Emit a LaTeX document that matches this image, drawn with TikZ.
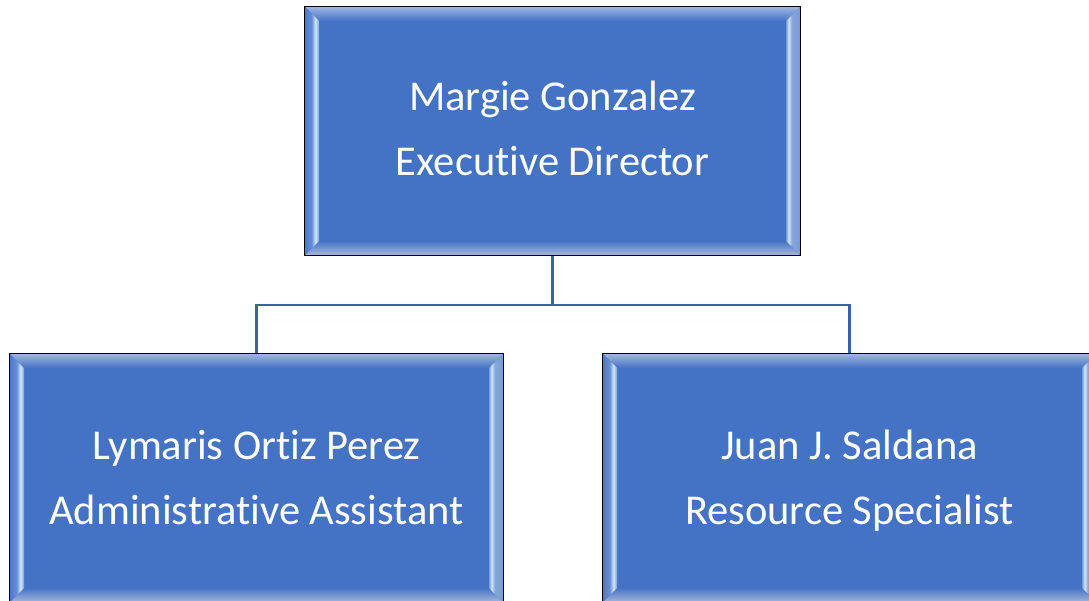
\documentclass[tikz,border=0pt]{standalone}
\usepackage{fontspec}
\setmainfont{Carlito}[Ligatures=NoCommon]
\usetikzlibrary{calc}
\definecolor{boxblue}{HTML}{4472C4}
\definecolor{connblue}{HTML}{3A62A8}
\definecolor{bevtop}{HTML}{9BB4E2}
\definecolor{bevbot}{HTML}{A3B6DA}
\definecolor{bevLa}{HTML}{4E7AC7}
\definecolor{bevLb}{HTML}{6690D6}
\definecolor{bevHL}{HTML}{D4E8FC}
\definecolor{bevLc}{HTML}{6F97D9}
\definecolor{bevRa}{HTML}{7A9AD4}
\definecolor{bevRb}{HTML}{86A6DE}
\pgfdeclarehorizontalshading{bevleft}{100bp}{color(0bp)=(bevLa); color(25bp)=(bevLa); color(48bp)=(bevLb); color(62bp)=(bevHL); color(75bp)=(bevLc); color(100bp)=(bevLc)}
\pgfdeclarehorizontalshading{bevright}{100bp}{color(0bp)=(bevLc); color(25bp)=(bevLc); color(35bp)=(bevHL); color(46bp)=(bevRb); color(75bp)=(bevRa); color(100bp)=(bevRa)}
\newcommand\bevelon[1]{%
  \coordinate (#1A) at ($(#1.north west)+(1,1)$);
  \coordinate (#1B) at ($(#1.north east)+(-1,1)$);
  \coordinate (#1C) at ($(#1.south east)+(-1,-1)$);
  \coordinate (#1D) at ($(#1.south west)+(1,-1)$);
  \coordinate (#1a) at ($(#1A)+(14,14)$);
  \coordinate (#1b) at ($(#1B)+(-14,14)$);
  \coordinate (#1c) at ($(#1C)+(-14,-14)$);
  \coordinate (#1d) at ($(#1D)+(14,-14)$);
  \shade[top color=bevtop, bottom color=boxblue] (#1A) -- (#1B) -- (#1b) -- (#1a) -- cycle;
  \shade[top color=boxblue, bottom color=bevbot] (#1D) -- (#1C) -- (#1c) -- (#1d) -- cycle;
  \shade[shading=bevleft] (#1A) -- (#1a) -- (#1d) -- (#1D) -- cycle;
  \shade[shading=bevright] (#1B) -- (#1b) -- (#1c) -- (#1C) -- cycle;
}
\begin{document}
\begin{tikzpicture}[x=1pt,y=-1pt,
  orgbox/.style={draw=black, line width=1.6pt, fill=boxblue, minimum width=493pt,
    minimum height=248pt, inner sep=0pt},
  orgtext/.style={inner sep=0pt, text=white, align=center,
    font=\fontsize{42.5pt}{65pt}\selectfont},
  conn/.style={draw=connblue, line width=2.6pt}]
\useasboundingbox (0,0) rectangle (1089,600);
\clip (0,0) rectangle (1089,600);
\node[orgbox, minimum width=495pt] (top) at (552.5,131) {};
\node[orgbox] (bl) at (256.5,478) {};
\node[orgbox] (br) at (849.5,478) {};
\coordinate (j) at ($(top.south)+(0,49)$);
\draw[conn] (j) -| (bl.north);
\draw[conn] (j) -| (br.north);
\draw[conn, line width=3.5pt] (top.south) -- (j);
\bevelon{top}
\bevelon{bl}
\bevelon{br}
\node[orgtext] (toptxt) at ($(top.center)+(0,-1.5)$) {\strut Margie Gonzalez\\\strut Executive Director};
\node[orgtext] (bltxt) at ($(bl.center)+(0,0.5)$) {\strut Lymaris Ortiz Perez\\\strut Administrative Assistant};
\node[orgtext] (brtxt) at ($(br.center)+(0,0.5)$) {\strut Juan J. Saldana\\\strut Resource Specialist};
\end{tikzpicture}
\end{document}
